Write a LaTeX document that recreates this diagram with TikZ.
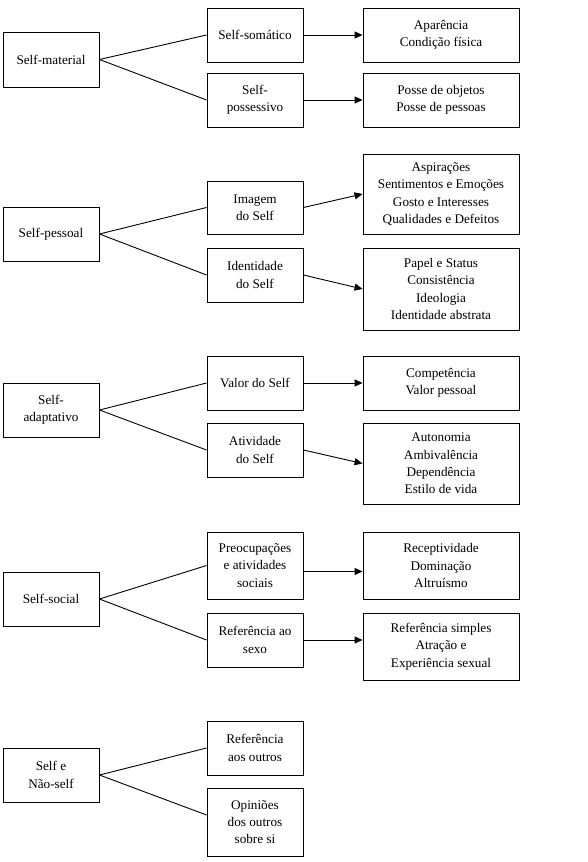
\documentclass[tikz,border=0pt]{standalone}
\usepackage{fontspec}
\setmainfont{Liberation Serif}
\usetikzlibrary{arrows.meta}
\begin{document}
\begin{tikzpicture}[x=1pt,y=-1pt,
  box/.style={draw,line width=0.9pt,rectangle,align=center,inner sep=2pt,
    font=\fontsize{13.2}{17.3}\selectfont},
  lbox/.style={box,minimum width=96pt},
  rbox/.style={box,minimum width=156pt},
  link/.style={line width=0.9pt},
  arr/.style={line width=0.9pt,-{Triangle[length=8pt,width=7pt]}}]
\useasboundingbox (0,0) rectangle (587,862);
% group 1
\node[lbox,minimum height=55pt] (L1) at (51,59.5) {Self-material};
\node[lbox,minimum height=54pt] (M1a) at (255,35) {Self-somático};
\node[lbox,minimum height=54pt] (M1b) at (255,100) {Self-\\possessivo};
\node[rbox,minimum height=54pt] (R1a) at (441,35) {Aparência\\Condição física};
\node[rbox,minimum height=54pt] (R1b) at (441,100) {Posse de objetos\\Posse de pessoas};
% group 2
\node[lbox,minimum height=54pt] (L2) at (51,234) {Self-pessoal};
\node[lbox,minimum height=53pt] (M2a) at (255,207.5) {Imagem\\do Self};
\node[lbox,minimum height=54pt] (M2b) at (255,275) {Identidade\\do Self};
\node[rbox,minimum height=80pt] (R2a) at (441,194) {Aspirações\\Sentimentos e Emoções\\Gosto e Interesses\\Qualidades e Defeitos};
\node[rbox,minimum height=82pt] (R2b) at (441,289) {Papel e Status\\Consistência\\Ideologia\\Identidade abstrata};
% group 3
\node[lbox,minimum height=54pt] (L3) at (51,410) {Self-\\adaptativo};
\node[lbox,minimum height=54pt] (M3a) at (255,383) {Valor do Self};
\node[lbox,minimum height=54pt] (M3b) at (255,450) {Atividade\\do Self};
\node[rbox,minimum height=54pt] (R3a) at (441,383) {Competência\\Valor pessoal};
\node[rbox,minimum height=81pt] (R3b) at (441,463.5) {Autonomia\\Ambivalência\\Dependência\\Estilo de vida};
% group 4
\node[lbox,minimum height=54pt] (L4) at (51,599) {Self-social};
\node[lbox,minimum height=67pt] (M4a) at (255,565.5) {Preocupações\\e atividades\\sociais};
\node[lbox,minimum height=54pt] (M4b) at (255,640) {Referência ao\\sexo};
\node[rbox,minimum height=67pt] (R4a) at (441,565.5) {Receptividade\\Dominação\\Altruísmo};
\node[rbox,minimum height=67pt] (R4b) at (441,646.5) {Referência simples\\Atração e\\Experiência sexual};
% group 5
\node[lbox,minimum height=54pt] (L5) at (51,775) {Self e\\Não-self};
\node[lbox,minimum height=54pt] (M5a) at (255,748) {Referência\\aos outros};
\node[lbox,minimum height=68pt] (M5b) at (255,822) {Opiniões\\dos outros\\sobre si};
% connectors
\draw[link] (L1.east) -- (M1a.west);
\draw[link] (L1.east) -- (M1b.west);
\draw[arr] (M1a.east) -- (R1a.west);
\draw[arr] (M1b.east) -- (R1b.west);
\draw[link] (L2.east) -- (M2a.west);
\draw[link] (L2.east) -- (M2b.west);
\draw[arr] (M2a.east) -- (R2a.west);
\draw[arr] (M2b.east) -- (R2b.west);
\draw[link] (L3.east) -- (M3a.west);
\draw[link] (L3.east) -- (M3b.west);
\draw[arr] (M3a.east) -- (R3a.west);
\draw[arr] (M3b.east) -- (R3b.west);
\draw[link] (L4.east) -- (M4a.west);
\draw[link] (L4.east) -- (M4b.west);
\draw[arr] ([yshift=-6pt]M4a.east) -- ([yshift=-6pt]R4a.west);
\draw[arr] (M4b.east) -- (M4b.east -| R4b.west);
\draw[link] (L5.east) -- (M5a.west);
\draw[link] (L5.east) -- ([yshift=7pt]M5b.west);
\end{tikzpicture}
\end{document}
